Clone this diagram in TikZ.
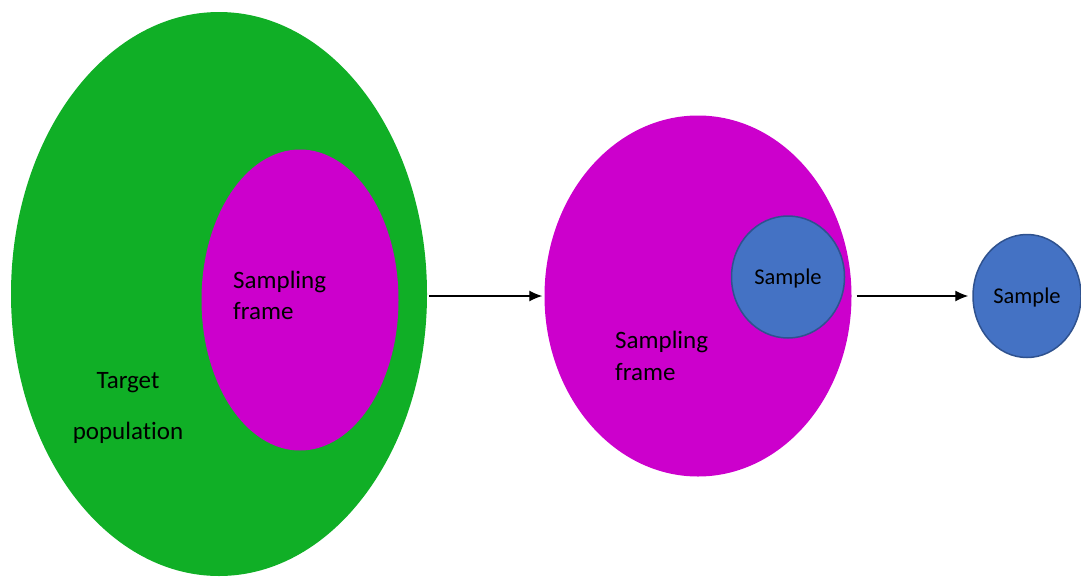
\documentclass[tikz,border=0pt]{standalone}
\usepackage{fontspec}
\setmainfont[Ligatures=NoCommon]{Carlito}
\usetikzlibrary{arrows.meta,shapes.geometric}
\definecolor{popgreen}{RGB}{16,175,38}
\definecolor{framemag}{RGB}{204,0,204}
\definecolor{sampblue}{RGB}{68,114,196}
\definecolor{sampedge}{RGB}{47,82,143}
\tikzset{
  popnode/.style={ellipse,fill=popgreen,inner sep=0pt},
  framenode/.style={ellipse,fill=framemag,inner sep=0pt},
  samplenode/.style={ellipse,fill=sampblue,draw=sampedge,line width=1.5pt,inner sep=0pt,
    text depth=0pt,font=\fontsize{22.5}{26}\selectfont},
  labeltext/.style={inner sep=0pt,font=\fontsize{25}{31.5}\selectfont},
  flowarrow/.style={-{Latex[length=13pt,width=11pt]},line width=1.3pt,draw=black}
}

\begin{document}
\begin{tikzpicture}[x=1pt,y=-1pt]
  \useasboundingbox (0,0) rectangle (1081,576);
  % population with its frame inside
  \node[popnode,minimum width=416pt,minimum height=564pt] (pop) at (219,294) {};
  \node[framenode,minimum width=197pt,minimum height=301pt] (frame1) at (300,300) {};
  \node[labeltext,align=left,anchor=west] (frame1txt) at (233,295.5) {Sampling\\frame};
  \node[labeltext,align=center,font=\fontsize{25}{51}\selectfont] (poptxt) at (128,408)
    {Target\\population};
  % frame with the sample drawn from it
  \node[framenode,minimum width=307pt,minimum height=361pt] (frame2) at (698,296) {};
  \node[labeltext,align=left,anchor=west] (frame2txt) at (615,356) {Sampling\\frame};
  \node[samplenode,minimum width=113pt,minimum height=122pt] (samp1) at (788,277) {Sample};
  % the sample on its own
  \node[samplenode,minimum width=108pt,minimum height=123pt] (samp2) at (1027,296) {Sample};
  \draw[flowarrow,shorten <=2pt,shorten >=2pt] (pop.east |- frame2.west) -- (frame2.west);
  \draw[flowarrow,shorten <=5pt,shorten >=4pt] (frame2.east |- samp2.west) -- (samp2.west);
\end{tikzpicture}
\end{document}
